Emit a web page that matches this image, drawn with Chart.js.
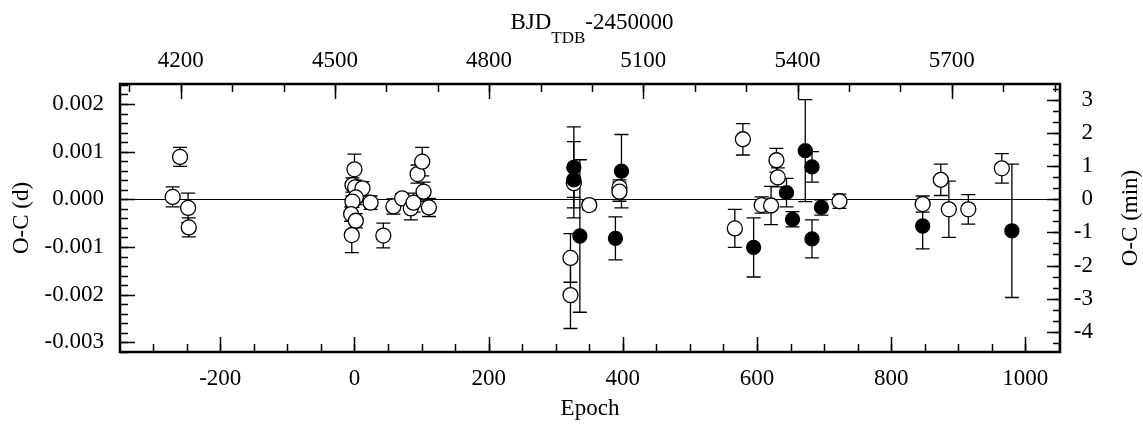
<!DOCTYPE html>
<html>
<head>
<meta charset="utf-8">
<script src="https://cdn.jsdelivr.net/npm/chart.js@4.4.0/dist/chart.umd.min.js"></script>
<style>
    html, body { margin: 0; padding: 0; background: #fff; }
    #wrap { width: 1143px; height: 426px; position: relative; }
</style>
</head>
<body>
<div id="wrap"><canvas id="oc-chart"></canvas></div>
<script>
// Open circles (epoch, O-C in days, 1-sigma error)
const openEpoch = [-271, -260, -248, -247, 0, -3, 1, 12, 2, -3, -5, 2, -4, 24, 43, 58, 71, 84, 88, 94, 101, 103, 111,
    322, 322, 327, 350, 395, 395, 567, 579, 607, 621, 629, 631, 723, 847, 874, 886, 915, 965];
const openOC = [0.00005, 0.00089, -0.00018, -0.00059, 0.00063, 0.00030, 0.00025, 0.00023, 0.00004, -0.00005, -0.00031, -0.00045, -0.00075, -0.00007, -0.00076, -0.00015, 0.00002, -0.00019, -0.00007, 0.00053, 0.00079, 0.00016, -0.00017,
    -0.00123, -0.00201, 0.00034, -0.00012, 0.00025, 0.00016, -0.00061, 0.00126, -0.00012, -0.00013, 0.00082, 0.00046, -0.00004, -0.00010, 0.00041, -0.00021, -0.00021, 0.00065];
const openErr = [0.00021, 0.00020, 0.00031, 0.00020, 0.00032, 0.00015, 0.00015, 0.00014, 0.00015, 0.00012, 0.00015, 0.00015, 0.00037, 0.00014, 0.00026, 0.00016, 0.00010, 0.00024, 0.00020, 0.00019, 0.00030, 0.00020, 0.00019,
    0.00051, 0.00070, 0.00030, 0.00010, 0.00016, 0.00020, 0.00040, 0.00033, 0.00017, 0.00040, 0.00025, 0.00020, 0.00015, 0.00017, 0.00033, 0.00059, 0.00031, 0.00031];

// Filled circles
const fillEpoch = [327, 327, 336, 389, 398, 595, 644, 653, 672, 682, 682, 696, 847, 980];
const fillOC = [0.00067, 0.00041, -0.00077, -0.00082, 0.00059, -0.00101, 0.00014, -0.00042, 0.00102, 0.00068, -0.00083, -0.00017, -0.00056, -0.00066];
const fillErr = [0.00085, 0.00080, 0.00160, 0.00045, 0.00077, 0.00062, 0.00030, 0.00016, 0.00107, 0.00032, 0.00040, 0.00016, 0.00048, 0.00140];

// Tick labels
const epochTicks = [-200, 0, 200, 400, 600, 800, 1000];
const bjdTicks = [4200, 4500, 4800, 5100, 5400, 5700];
const ocDayTicks = [-0.003, -0.002, -0.001, 0, 0.001, 0.002];
const ocMinTicks = [-4, -3, -2, -1, 0, 1, 2, 3];

// Axis ranges
const epochRange = [-349.5, 1051.7];
const bjdRange = [4081.9, 5910.7];
const ocDayRange = [-0.0032035, 0.0024196];
const ocMinRange = ocDayRange.map(d => d * 1440);

const FONT = '"Liberation Serif", "Times New Roman", serif';
Chart.defaults.font.family = FONT;
Chart.defaults.font.size = 23;
Chart.defaults.color = "#000";

function toPoints(xs, ys) {
    return xs.map((x, i) => ({ x: x, y: ys[i] }));
}

function fixedTicks(values) {
    return function (scale) {
        scale.ticks = values.map(v => ({ value: v }));
    };
}

// error bars drawn behind the circles
const errorBars = {
    id: "errorBars",
    beforeDatasetsDraw(chart) {
        const ctx = chart.ctx;
        const xs = chart.scales.x;
        const ys = chart.scales.y;
        ctx.save();
        ctx.strokeStyle = "#000";
        ctx.lineWidth = 1.3;
        chart.data.datasets.forEach(ds => {
            if (!ds.errors) return;
            ds.data.forEach((p, i) => {
                const px = xs.getPixelForValue(p.x);
                const top = ys.getPixelForValue(p.y + ds.errors[i]);
                const bot = ys.getPixelForValue(p.y - ds.errors[i]);
                ctx.beginPath();
                ctx.moveTo(px, top);
                ctx.lineTo(px, bot);
                ctx.moveTo(px - 7, top);
                ctx.lineTo(px + 7, top);
                ctx.moveTo(px - 7, bot);
                ctx.lineTo(px + 7, bot);
                ctx.stroke();
            });
        });
        ctx.restore();
    },
};

// minor tick positions for each axis
function minorValues(range, step) {
    let out = [];
    for (let k = Math.ceil(range[0] / step - 1e-9); k <= Math.floor(range[1] / step + 1e-9); k++) {
        out.push(k * step);
    }
    return out;
}

// frame, inward ticks, top and right titles
const frame = {
    id: "frame",
    afterDraw(chart) {
        const ctx = chart.ctx;
        const a = chart.chartArea;
        const s = chart.scales;
        ctx.save();
        ctx.strokeStyle = "#000";
        ctx.lineWidth = 1.5;

        function tickX(scale, values, len, atTop) {
            values.forEach(v => {
                const px = Math.round(scale.getPixelForValue(v)) + 0.5;
                ctx.beginPath();
                if (atTop) {
                    ctx.moveTo(px, a.top);
                    ctx.lineTo(px, a.top + len);
                } else {
                    ctx.moveTo(px, a.bottom);
                    ctx.lineTo(px, a.bottom - len);
                }
                ctx.stroke();
            });
        }
        function tickY(scale, values, len, atLeft) {
            values.forEach(v => {
                const py = Math.round(scale.getPixelForValue(v)) + 0.5;
                ctx.beginPath();
                if (atLeft) {
                    ctx.moveTo(a.left, py);
                    ctx.lineTo(a.left + len, py);
                } else {
                    ctx.moveTo(a.right, py);
                    ctx.lineTo(a.right - len, py);
                }
                ctx.stroke();
            });
        }

        tickX(s.x, epochTicks, 15, false);
        tickX(s.x, minorValues(epochRange, 50), 8, false);
        tickX(s.x2, bjdTicks, 15, true);
        tickX(s.x2, minorValues(bjdRange, 100), 8, true);
        tickY(s.y, ocDayTicks, 15, true);
        tickY(s.y, minorValues(ocDayRange, 0.0002), 8, true);
        tickY(s.y2, ocMinTicks, 13, false);
        tickY(s.y2, minorValues(ocMinRange, 1 / 3), 7, false);

        ctx.lineWidth = 2.5;
        ctx.strokeRect(a.left, a.top, a.right - a.left, a.bottom - a.top);

        // top title with subscript
        ctx.fillStyle = "#000";
        ctx.textBaseline = "alphabetic";
        ctx.textAlign = "left";
        const big = "23px " + FONT;
        const small = "17px " + FONT;
        ctx.font = big;
        const w1 = ctx.measureText("BJD").width;
        const w3 = ctx.measureText("-2450000").width;
        ctx.font = small;
        const w2 = ctx.measureText("TDB").width;
        let x0 = (a.left + a.right) / 2 + 2 - (w1 + w2 + w3) / 2;
        ctx.font = big;
        ctx.fillText("BJD", x0, 29);
        ctx.font = small;
        ctx.fillText("TDB", x0 + w1, 43);
        ctx.font = big;
        ctx.fillText("-2450000", x0 + w1 + w2, 29);

        // right title
        ctx.translate(1131, (a.top + a.bottom) / 2);
        ctx.rotate(-Math.PI / 2);
        ctx.textAlign = "center";
        ctx.textBaseline = "middle";
        ctx.fillText("O-C (min)", 0, 0);
        ctx.restore();
    },
};

const ctx = document.getElementById("oc-chart").getContext("2d");
const chart = new Chart(ctx, {
    type: "scatter",
    data: {
        datasets: [
            {
                label: "filled",
                data: toPoints(fillEpoch, fillOC),
                errors: fillErr,
                pointRadius: 7,
                pointBackgroundColor: "#000",
                pointBorderColor: "#000",
                pointBorderWidth: 1.3,
                xAxisID: "x",
                yAxisID: "y",
            },
            {
                label: "open",
                data: toPoints(openEpoch, openOC),
                errors: openErr,
                pointRadius: 7.5,
                pointBackgroundColor: "#fff",
                pointBorderColor: "#000",
                pointBorderWidth: 1.3,
                xAxisID: "x",
                yAxisID: "y",
            },
        ],
    },
    options: {
        responsive: true,
        maintainAspectRatio: false,
        animation: false,
        layout: { padding: { left: 0, right: 50, top: 0, bottom: 0 } },
        plugins: {
            legend: { display: false },
            tooltip: { enabled: false },
        },
        scales: {
            x: {
                type: "linear",
                position: "bottom",
                min: epochRange[0],
                max: epochRange[1],
                afterBuildTicks: fixedTicks(epochTicks),
                afterFit: s => { s.height = 74; },
                grid: { display: false, drawTicks: false },
                border: { display: false },
                ticks: { padding: 13, maxRotation: 0, autoSkip: false, callback: v => String(v) },
                title: { display: true, text: "Epoch", padding: { top: 0, bottom: 3 } },
            },
            x2: {
                type: "linear",
                position: "top",
                min: bjdRange[0],
                max: bjdRange[1],
                afterBuildTicks: fixedTicks(bjdTicks),
                afterFit: s => { s.height = 84; },
                grid: { display: false, drawTicks: false },
                border: { display: false },
                ticks: { padding: 9, maxRotation: 0, autoSkip: false, callback: v => String(v) },
            },
            y: {
                type: "linear",
                position: "left",
                min: ocDayRange[0],
                max: ocDayRange[1],
                afterBuildTicks: fixedTicks(ocDayTicks),
                afterFit: s => { s.width = 120; },
                grid: {
                    drawTicks: false,
                    lineWidth: 1,
                    color: c => (c.tick && Math.abs(c.tick.value) < 1e-9 ? "#000" : "rgba(0,0,0,0)"),
                },
                border: { display: false },
                ticks: { padding: 16, autoSkip: false, callback: v => v.toFixed(3) },
                title: { display: true, text: "O-C (d)", padding: { top: 8, bottom: 0 } },
            },
            y2: {
                type: "linear",
                position: "right",
                min: ocMinRange[0],
                max: ocMinRange[1],
                afterBuildTicks: fixedTicks(ocMinTicks),
                afterFit: s => { s.width = 33; },
                grid: { display: false, drawTicks: false },
                border: { display: false },
                ticks: { crossAlign: "far", autoSkip: false, callback: v => String(v) },
            },
        },
    },
    plugins: [errorBars, frame],
});
</script>
</body>
</html>
